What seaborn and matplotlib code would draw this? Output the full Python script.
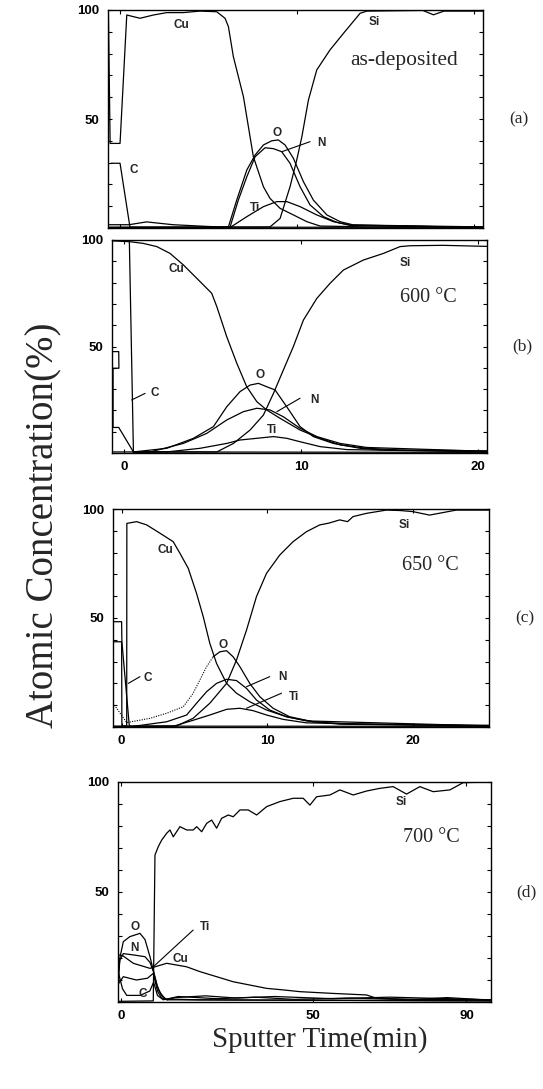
import matplotlib
matplotlib.use("Agg")
import matplotlib.pyplot as plt
import seaborn as sns
import pandas as pd

# ---------------- data (sputter time in min, atomic concentration in %) -------------
# (a) as-deposited
a_cu_t = [-0.66, -0.56, 0.0, 0.38, 1.13, 1.88, 2.64, 3.58, 4.52, 5.46, 5.93, 6.12, 6.40, 6.97, 7.53, 8.10, 8.47, 9.04, 9.79, 10.55, 11.30, 14.0, 20.5]
a_cu_p = [100, 38.8, 38.8, 97.7, 96.2, 97.7, 98.8, 98.8, 99.5, 99.2, 96.2, 92.4, 78.6, 60.2, 32.7, 18.9, 13.6, 9.0, 6.0, 2.9, 0.9, 0.5, 0.5]
a_si_t = [-0.6, 8.47, 9.04, 9.60, 9.98, 10.27, 10.64, 11.11, 11.86, 12.62, 13.56, 13.94, 17.1, 17.7, 18.3, 20.5]
a_si_p = [0.3, 0.5, 4.4, 18.9, 31.2, 41.9, 58.7, 72.5, 81.7, 89.3, 98.5, 99.5, 99.8, 97.8, 99.5, 99.5]
a_o_t = [-0.6, 0.5, 1.5, 3.0, 5.5, 6.12, 6.59, 7.16, 7.63, 8.10, 8.57, 8.94, 9.32, 9.79, 10.36, 10.92, 11.68, 12.43, 13.18, 20.5]
a_o_p = [1.5, 1.5, 2.8, 1.5, 0.5, 0.5, 12.8, 26.6, 33.5, 38.1, 40.0, 40.4, 38.1, 32.0, 21.2, 12.8, 6.0, 2.9, 1.4, 0.5]
a_n_t = [-0.6, 6.21, 6.68, 7.16, 7.63, 8.19, 8.66, 9.13, 9.60, 10.17, 10.73, 11.49, 12.24, 12.99, 20.5]
a_n_p = [0.3, 0.3, 12.8, 23.5, 32.7, 36.8, 36.4, 35.0, 29.7, 18.9, 10.6, 5.2, 2.6, 1.2, 0.3]
a_ti_t = [-0.6, 6.21, 7.16, 8.10, 8.85, 9.42, 10.17, 11.11, 12.05, 12.99, 20.5]
a_ti_p = [0.2, 0.2, 5.2, 9.8, 12.1, 12.1, 9.8, 6.0, 2.9, 1.4, 0.2]
a_c_t = [-0.5, 0.0, 0.56, 20.5]
a_c_p = [29.7, 29.7, 0.4, 0.3]

# (b) 600 C
b_cu_t = [-0.65, 0.34, 1.09, 1.85, 2.60, 3.35, 4.11, 4.95, 5.24, 5.80, 6.37, 6.93, 7.50, 8.06, 8.81, 9.94, 11.07, 12.20, 13.71, 15.59, 20.5]
b_cu_p = [99.6, 99.2, 98.4, 96.9, 93.7, 88.3, 82.0, 75.0, 68.7, 54.6, 42.1, 31.1, 24.1, 20.2, 16.3, 10.8, 6.9, 3.8, 2.2, 1.4, 1.0]
b_si_t = [-0.6, 5.24, 6.18, 7.12, 7.87, 8.44, 9.0, 9.56, 10.13, 10.89, 11.64, 12.39, 13.52, 14.65, 15.59, 16.16, 18.0, 20.5]
b_si_p = [0.5, 0.5, 4.5, 10.8, 17.8, 28.0, 39.0, 49.9, 62.4, 72.6, 79.7, 85.9, 90.6, 93.7, 96.9, 97.3, 97.5, 97.0]
b_o_t = [-0.66, -0.3, -0.29, -0.62, -0.62, -0.3, 0.53, 2.41, 3.92, 5.05, 5.80, 6.55, 7.12, 7.59, 8.06, 8.53, 9.19, 9.94, 10.69, 11.82, 13.33, 14.65, 20.5]
b_o_p = [47.6, 47.6, 39.8, 39.8, 12.0, 12.0, 0.5, 2.2, 6.9, 12.4, 21.7, 28.8, 31.9, 32.7, 31.1, 29.6, 21.7, 12.4, 7.7, 4.5, 2.2, 1.4, 0.8]
b_n_t = [0.53, 1.47, 3.35, 4.67, 5.80, 6.74, 7.50, 8.25, 9.0, 9.94, 10.89, 12.20, 13.71, 20.5]
b_n_p = [0.5, 0.5, 4.5, 9.2, 15.5, 19.4, 21.0, 20.2, 17.0, 11.6, 7.7, 4.5, 2.6, 0.8]
b_ti_t = [0.53, 2.41, 4.29, 5.80, 6.55, 7.50, 8.44, 9.19, 9.94, 11.07, 12.58, 20.5]
b_ti_p = [0.3, 0.5, 2.2, 4.5, 6.1, 6.9, 7.7, 6.9, 5.3, 3.0, 1.6, 0.5]
b_c_t = [0.30, 0.53, 20.5]
b_c_p = [99.5, 0.5, 0.3]

# (c) 650 C
c_cu_t = [-0.59, 0.0, 0.02, 0.35, 0.36, 1.03, 1.72, 2.63, 3.54, 4.0, 4.57, 5.14, 5.60, 6.05, 6.51, 7.20, 7.88, 8.79, 9.94, 11.31, 13.13, 15.64, 25.2]
c_cu_p = [39.1, 39.1, 0.5, 0.5, 93.4, 94.2, 92.7, 88.9, 85.0, 79.7, 72.8, 61.3, 50.6, 38.4, 29.2, 20.0, 15.5, 11.6, 7.8, 4.7, 2.4, 1.3, 0.8]
c_si_t = [-0.59, 3.77, 4.91, 6.05, 7.20, 7.88, 8.57, 9.25, 9.94, 10.85, 11.76, 12.68, 13.59, 14.2, 14.96, 15.5, 15.87, 16.79, 18.16, 19.1, 19.98, 21.12, 22.95, 24.55, 25.2]
c_si_p = [0.3, 0.5, 4.0, 10.9, 20.0, 30.7, 44.5, 59.8, 70.5, 78.9, 85.0, 89.6, 92.7, 93.5, 95.0, 94.2, 96.5, 98.0, 99.5, 99.3, 98.8, 97.2, 99.5, 99.5, 99.5]
c_o_t = [-0.59, 0.35, 1.95, 3.09, 4.23, 4.91, 5.37, 5.83, 6.28, 6.74, 7.20, 7.65, 8.11, 8.79, 9.48, 10.39, 11.53, 13.13, 14.96, 25.2]
c_o_p = [11.0, 2.0, 4.0, 6.3, 9.3, 15.5, 21.6, 27.7, 32.2, 34.5, 35.0, 32.2, 27.7, 20.0, 13.9, 8.6, 4.7, 2.4, 1.3, 0.5]
c_n_t = [-0.59, 0.8, 3.09, 4.46, 5.14, 5.83, 6.51, 7.20, 7.88, 8.57, 9.25, 10.16, 11.31, 12.68, 25.2]
c_n_p = [0.3, 0.3, 2.4, 5.5, 10.9, 16.2, 20.0, 21.9, 21.3, 17.7, 12.4, 7.8, 4.7, 2.8, 0.5]
c_ti_t = [-0.59, 3.54, 4.91, 6.05, 7.20, 8.11, 9.02, 9.94, 11.08, 12.68, 25.2]
c_ti_p = [0.2, 0.3, 3.1, 5.5, 8.1, 8.6, 7.5, 5.5, 3.5, 1.9, 0.4]
c_c_t = [-0.59, 0.0, 0.02, 0.53, 25.2]
c_c_p = [48.3, 48.3, 39.1, 0.4, 0.3]

# (d) 700 C
d_si_t = [-0.78, 8.41, 8.85, 9.71, 10.6, 11.9, 12.76, 13.62, 15.36, 17.11, 18.83, 19.71, 21.02, 22.32, 23.62, 24.92, 26.22, 27.94, 29.24, 30.99, 33.15, 35.34, 37.94, 41.41, 44.87, 47.47, 49.22, 50.96, 54.43, 57.03, 60.5, 63.98, 67.4, 70.9, 74.4, 77.86, 81.33, 85.68, 89.14, 96.4]
d_si_p = [0.3, 0.5, 66.8, 70.6, 73.6, 76.7, 78.2, 75.1, 79.7, 78.2, 78.2, 79.7, 77.4, 81.2, 82.7, 79.0, 83.5, 85.0, 84.2, 87.3, 87.3, 85.0, 88.8, 91.1, 92.6, 92.6, 89.5, 93.3, 94.1, 96.4, 94.1, 95.9, 97.1, 97.9, 94.5, 97.9, 95.6, 96.4, 99.7, 100]
d_cu_t = [-0.78, 0.5, 3.2, 7.55, 11.9, 17.1, 20.57, 24.92, 29.24, 33.59, 37.94, 42.27, 46.61, 55.29, 63.98, 66.58, 77.0, 96.4]
d_cu_p = [21.5, 21.0, 17.6, 15.3, 17.6, 16.0, 13.8, 11.5, 9.2, 7.7, 6.2, 5.5, 4.7, 3.9, 3.2, 1.7, 1.2, 1.0]
d_o_t = [-0.78, -0.3, 0.6, 2.3, 4.95, 6.25, 7.55, 8.41, 9.71, 11.46, 20.0, 96.4]
d_o_p = [5.0, 20.0, 27.4, 29.7, 31.2, 28.4, 20.6, 14.5, 5.5, 1.4, 1.0, 0.5]
d_n_t = [-0.78, -0.3, 0.6, 3.2, 6.25, 7.55, 8.41, 9.3, 10.5, 12.0, 96.4]
d_n_p = [12.0, 19.0, 22.0, 21.4, 20.6, 18.0, 14.0, 8.0, 3.0, 1.0, 0.5]
d_ti_t = [-0.78, 0.6, 4.0, 6.9, 8.4, 9.5, 10.5, 12.0, 14.0, 22.0, 30.0, 40.0, 55.0, 70.0, 96.4]
d_ti_p = [8.0, 11.5, 10.0, 10.8, 13.0, 5.0, 2.0, 1.0, 2.0, 2.8, 1.8, 2.5, 1.5, 2.2, 1.0]
d_c_t = [-0.78, 0.4, 1.5, 5.0, 7.5, 8.5, 9.5, 11.0, 15.0, 25.0, 35.0, 45.0, 60.0, 75.0, 85.0, 96.4]
d_c_p = [14.0, 6.0, 3.0, 3.0, 5.0, 9.0, 3.0, 1.0, 2.5, 1.5, 2.2, 1.2, 1.8, 1.0, 2.0, 0.8]

panel_tags = ["(a)", "(b)", "(c)", "(d)"]
panel_temps = ["as-deposited", "600 \u00b0C", "650 \u00b0C", "700 \u00b0C"]
x_ticks_b = [0, 10, 20]
x_ticks_c = [0, 10, 20]
x_ticks_d = [0, 50, 90]
y_ticks = list(range(0, 101, 10))
y_labels = ["" if v not in (50, 100) else str(v) for v in y_ticks]

# ---------------- style ----------------
sns.set_theme(style="ticks")
plt.rcParams["font.family"] = ["Liberation Sans", "DejaVu Sans"]
plt.rcParams["axes.linewidth"] = 1.0
plt.rcParams["axes.edgecolor"] = "black"

SERIF = "Liberation Serif"
fig = plt.figure(figsize=(5.43, 10.89), dpi=100)

W, H = 543.0, 1089.0
def rect(l, r, t, b):
    return [l / W, 1 - b / H, (r - l) / W, (b - t) / H]

rects = [rect(108, 483, 10, 228), rect(112, 487, 240, 453),
         rect(113, 489, 509, 727), rect(118, 491, 782, 1002)]
xlims = [(-0.68, 20.5), (-0.68, 20.5), (-0.59, 25.2), (-0.78, 96.4)]

series = [
    [(a_cu_t, a_cu_p), (a_si_t, a_si_p), (a_o_t, a_o_p), (a_n_t, a_n_p), (a_ti_t, a_ti_p), (a_c_t, a_c_p)],
    [(b_cu_t, b_cu_p), (b_si_t, b_si_p), (b_o_t, b_o_p), (b_n_t, b_n_p), (b_ti_t, b_ti_p), (b_c_t, b_c_p)],
    [(c_cu_t, c_cu_p), (c_si_t, c_si_p), (c_n_t, c_n_p), (c_ti_t, c_ti_p), (c_c_t, c_c_p)],
    [(d_cu_t, d_cu_p), (d_si_t, d_si_p), (d_o_t, d_o_p), (d_n_t, d_n_p), (d_ti_t, d_ti_p), (d_c_t, d_c_p)],
]
xticks = [None, x_ticks_b, x_ticks_c, x_ticks_d]

# element labels: (text, x, y) and pointer lines ((x0,y0),(x1,y1))
labels = [
    [("Cu", 3.49, 93.1), ("Si", 14.35, 94.6), ("O", 8.85, 43.7), ("N", 11.35, 38.8), ("Ti", 7.63, 9.0), ("C", 0.75, 26.6)],
    [("Cu", 2.98, 86.2), ("Si", 15.9, 89.1), ("O", 7.68, 36.6), ("N", 10.75, 24.9), ("Ti", 8.34, 10.8), ("C", 1.75, 28.0)],
    [("Cu", 2.97, 81.2), ("Si", 19.4, 92.7), ("O", 6.97, 37.6), ("N", 11.0, 23.1), ("Ti", 11.8, 13.9), ("C", 1.8, 22.3)],
    [("Cu", 15.5, 19.5), ("Si", 73.0, 91.0), ("O", 3.65, 34.2), ("N", 3.47, 24.4), ("Ti", 22.0, 34.2), ("C", 5.64, 3.5)],
]
pointers = [
    [((9.14, 35.0), (10.73, 39.6))],
    [((0.43, 24.9), (1.19, 28.0)), ((8.63, 19.4), (9.94, 25.7))],
    [((0.46, 20.0), (1.26, 23.1)), ((8.57, 18.5), (10.16, 23.1)), ((8.57, 8.6), (10.97, 15.5))],
    [((8.41, 16.0), (18.8, 32.7))],
]
temp_pos = [(13.0, 77.0), (15.6, 73.0), (19.2, 74.3), (73.4, 75.0)]

for i in range(4):
    ax = fig.add_axes(rects[i])
    for t, p in series[i]:
        df = pd.DataFrame({"t": t, "p": p})
        sns.lineplot(data=df, x="t", y="p", ax=ax, color="black", lw=0.9,
                     estimator=None, sort=False, legend=False)
    if i == 2:
        # O in (c): rising flank drawn dotted, rest solid
        df_o = pd.DataFrame({"t": c_o_t, "p": c_o_p})
        sns.lineplot(data=df_o.iloc[:9], x="t", y="p", ax=ax, color="black", lw=0.8,
                     linestyle=(0, (1, 1.2)), estimator=None, sort=False, legend=False)
        sns.lineplot(data=df_o.iloc[8:], x="t", y="p", ax=ax, color="black", lw=0.9,
                     estimator=None, sort=False, legend=False)
    ax.set_xlim(*xlims[i])
    ax.set_ylim(0, 100)
    ax.set_xlabel("")
    ax.set_ylabel("")
    ax.set_yticks(y_ticks)
    ax.set_yticklabels(y_labels, fontsize=9.5, fontweight="bold")
    if xticks[i] is None:
        ax.set_xticks([0, 10, 20])
        ax.set_xticklabels([])
    else:
        ax.set_xticks(xticks[i])
        ax.set_xticklabels([str(v) for v in xticks[i]], fontsize=9.5, fontweight="bold")
    ax.tick_params(axis="both", direction="in", length=3, width=0.8,
                   left=True, right=True, top=True, bottom=True, pad=6, colors="black")
    for s in ax.spines.values():
        s.set_visible(True)
        s.set_color("black")
        s.set_linewidth(1.0)
    for txt, x, y in labels[i]:
        ax.text(x, y, txt, fontsize=8.5, fontweight="bold", ha="center", va="center")
    for (x0, y0), (x1, y1) in pointers[i]:
        ax.plot([x0, x1], [y0, y1], color="black", lw=0.8)
    tx, ty = temp_pos[i]
    ax.text(tx, ty, panel_temps[i], family=SERIF, fontsize=15.5 if i == 0 else 14.5,
            ha="left", va="center")
    ax.text(1.095, 0.5, panel_tags[i], transform=ax.transAxes, family=SERIF,
            fontsize=12.5, ha="center", va="center")

fig.text(44 / W, 1 - 525 / H, "Atomic Concentration(%)", family=SERIF, fontsize=28,
         rotation=90, ha="center", va="center")
fig.text(320 / W, 1 - 1040 / H, "Sputter Time(min)", family=SERIF, fontsize=21,
         ha="center", va="center")

fig.savefig("out.png", dpi=100, facecolor="white")
